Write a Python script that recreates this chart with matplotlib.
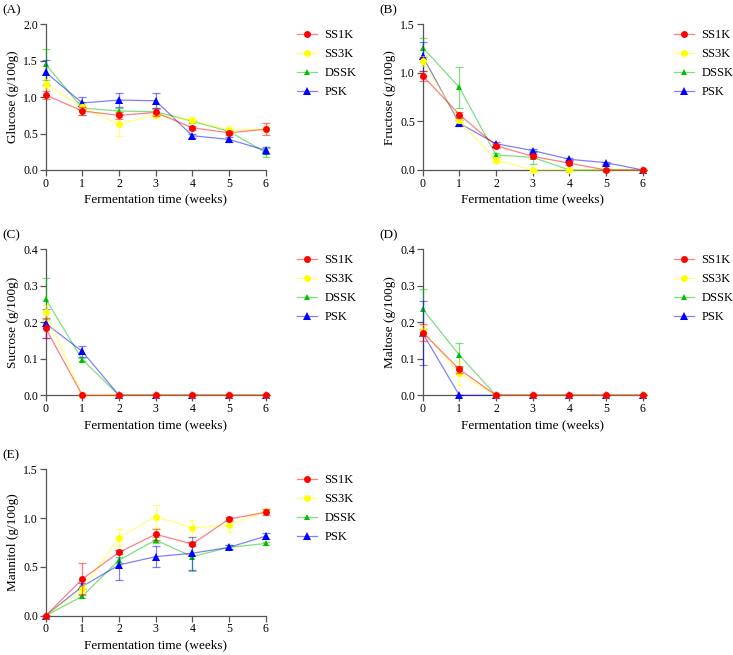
import numpy as np
import matplotlib
matplotlib.use("Agg")
import matplotlib.pyplot as plt
from matplotlib.lines import Line2D
from matplotlib.colors import to_rgba

plt.rcParams["font.family"] = ["Liberation Serif", "DejaVu Serif"]

weeks = [0, 1, 2, 3, 4, 5, 6]
groups = ["SS1K", "SS3K", "DSSK", "PSK"]

# Glucose
glu_ss1k = [1.03, 0.81, 0.75, 0.79, 0.58, 0.51, 0.56]
glu_ss3k = [1.18, 0.86, 0.63, 0.76, 0.68, 0.55, 0.56]
glu_dssk = [1.45, 0.85, 0.81, 0.80, 0.67, 0.53, 0.24]
glu_psk = [1.34, 0.92, 0.96, 0.95, 0.47, 0.42, 0.27]
glu_ss1k_err = [0.06, 0.05, 0.05, 0.05, 0.03, 0.03, 0.08]
glu_ss3k_err = [0.07, 0.04, 0.16, 0.04, 0.03, 0.05, 0.03]
glu_dssk_err = [0.21, 0.09, 0.04, 0.05, 0.02, 0.02, 0.06]
glu_psk_err = [0.17, 0.08, 0.09, 0.10, 0.03, 0.03, 0.05]

# Fructose
fru_ss1k = [0.97, 0.57, 0.25, 0.14, 0.07, 0.0, 0.0]
fru_ss3k = [1.12, 0.51, 0.10, 0.0, 0.0, 0.0, 0.0]
fru_dssk = [1.26, 0.85, 0.155, 0.13, 0.0, 0.0, 0.0]
fru_psk = [1.17, 0.48, 0.27, 0.20, 0.11, 0.075, 0.0]
fru_ss1k_err = [0.05, 0.03, 0.02, 0.02, 0.02, 0.0, 0.0]
fru_ss3k_err = [0.05, 0.03, 0.03, 0.0, 0.0, 0.0, 0.0]
fru_dssk_err = [0.10, 0.21, 0.02, 0.07, 0.0, 0.0, 0.0]
fru_psk_err = [0.15, 0.03, 0.02, 0.02, 0.01, 0.01, 0.0]

# Sucrose
suc_ss1k = [0.184, 0, 0, 0, 0, 0, 0]
suc_ss3k = [0.227, 0, 0, 0, 0, 0, 0]
suc_dssk = [0.264, 0.098, 0, 0, 0, 0, 0]
suc_psk = [0.197, 0.12, 0, 0, 0, 0, 0]
suc_ss1k_err = [0.028, 0, 0, 0, 0, 0, 0]
suc_ss3k_err = [0.02, 0, 0, 0, 0, 0, 0]
suc_dssk_err = [0.056, 0.005, 0, 0, 0, 0, 0]
suc_psk_err = [0.04, 0.015, 0, 0, 0, 0, 0]

# Maltose
mal_ss1k = [0.172, 0.071, 0, 0, 0, 0, 0]
mal_ss3k = [0.177, 0.06, 0, 0, 0, 0, 0]
mal_dssk = [0.236, 0.11, 0, 0, 0, 0, 0]
mal_psk = [0.17, 0.0, 0, 0, 0, 0, 0]
mal_ss1k_err = [0.023, 0.01, 0, 0, 0, 0, 0]
mal_ss3k_err = [0.015, 0.032, 0, 0, 0, 0, 0]
mal_dssk_err = [0.055, 0.032, 0, 0, 0, 0, 0]
mal_psk_err = [0.088, 0.0, 0, 0, 0, 0, 0]

# Mannitol
man_ss1k = [0.0, 0.376, 0.65, 0.834, 0.735, 0.99, 1.06]
man_ss3k = [0.0, 0.27, 0.80, 1.015, 0.90, 0.93, 1.07]
man_dssk = [0.0, 0.20, 0.57, 0.775, 0.605, 0.70, 0.74]
man_psk = [0.0, 0.30, 0.52, 0.605, 0.64, 0.70, 0.815]
man_ss1k_err = [0.0, 0.16, 0.02, 0.055, 0.02, 0.02, 0.03]
man_ss3k_err = [0.0, 0.04, 0.085, 0.12, 0.08, 0.07, 0.02]
man_dssk_err = [0.0, 0.02, 0.03, 0.03, 0.15, 0.02, 0.02]
man_psk_err = [0.0, 0.03, 0.15, 0.11, 0.17, 0.02, 0.03]

panels = [
    ("(A)", "Glucose (g/100g)", 2.0, 0.5,
     [glu_ss1k, glu_ss3k, glu_dssk, glu_psk],
     [glu_ss1k_err, glu_ss3k_err, glu_dssk_err, glu_psk_err]),
    ("(B)", "Fructose (g/100g)", 1.5, 0.5,
     [fru_ss1k, fru_ss3k, fru_dssk, fru_psk],
     [fru_ss1k_err, fru_ss3k_err, fru_dssk_err, fru_psk_err]),
    ("(C)", "Sucrose (g/100g)", 0.4, 0.1,
     [suc_ss1k, suc_ss3k, suc_dssk, suc_psk],
     [suc_ss1k_err, suc_ss3k_err, suc_dssk_err, suc_psk_err]),
    ("(D)", "Maltose (g/100g)", 0.4, 0.1,
     [mal_ss1k, mal_ss3k, mal_dssk, mal_psk],
     [mal_ss1k_err, mal_ss3k_err, mal_dssk_err, mal_psk_err]),
    ("(E)", "Mannitol (g/100g)", 1.5, 0.5,
     [man_ss1k, man_ss3k, man_dssk, man_psk],
     [man_ss1k_err, man_ss3k_err, man_dssk_err, man_psk_err]),
]

colors = ["#ff0000", "#ffff00", "#00c000", "#0000ff"]
markers = ["o", "o", "^", "^"]
msizes = [5, 5, 4.2, 5.8]
zorders = [6, 5, 3, 4]
line_alpha = 0.5

positions = [
    [0.0623, 0.7405, 0.3001, 0.2224],
    [0.5767, 0.7405, 0.3001, 0.2224],
    [0.0623, 0.3965, 0.3001, 0.2229],
    [0.5767, 0.3965, 0.3001, 0.2229],
    [0.0623, 0.0600, 0.3001, 0.2235],
]

fig = plt.figure(figsize=(7.33, 6.55), dpi=100)

for pos, (tag, ylabel, ymax, ystep, series, errs) in zip(positions, panels):
    ax = fig.add_axes(pos)
    handles = []
    for i, name in enumerate(groups):
        ax.errorbar(weeks, series[i], yerr=errs[i], color=colors[i],
                    alpha=line_alpha, linewidth=0.9, elinewidth=0.9,
                    capsize=3, capthick=0.9, zorder=zorders[i], clip_on=False)
        ax.plot(weeks, series[i], linestyle="none", marker=markers[i],
                markersize=msizes[i], color=colors[i], markeredgewidth=0,
                zorder=zorders[i] + 0.5, clip_on=False)
        handles.append(Line2D([], [], color=to_rgba(colors[i], line_alpha),
                              linewidth=0.9, marker=markers[i],
                              markersize=msizes[i], markerfacecolor=colors[i],
                              markeredgewidth=0, label=name))
    ax.set_xlim(0, 6)
    ax.set_ylim(0, ymax)
    ax.set_xticks(weeks)
    ax.set_yticks(np.arange(0, ymax + ystep / 2, ystep))
    ax.yaxis.set_major_formatter(matplotlib.ticker.FormatStrFormatter("%.1f"))
    ax.spines["top"].set_visible(False)
    ax.spines["right"].set_visible(False)
    for s in ["left", "bottom"]:
        ax.spines[s].set_color("#555555")
        ax.spines[s].set_linewidth(0.9)
    ax.tick_params(direction="out", length=4, width=0.9, color="#555555",
                   labelsize=8.5, pad=1.5)
    ax.set_xlabel("Fermentation time (weeks)", fontsize=9.5, labelpad=3)
    ax.set_ylabel(ylabel, fontsize=9.5, labelpad=3)
    ax.legend(handles=handles, loc="upper left", bbox_to_anchor=(1.12, 1.0),
              frameon=False, fontsize=9, handlelength=1.6,
              handletextpad=0.6, labelspacing=0.55, borderaxespad=0)
    fig.text(pos[0] - 0.0595, pos[1] + pos[3] + 0.022, tag, fontsize=9.5,
             ha="left", va="center")

fig.savefig("out.png", dpi=100)
